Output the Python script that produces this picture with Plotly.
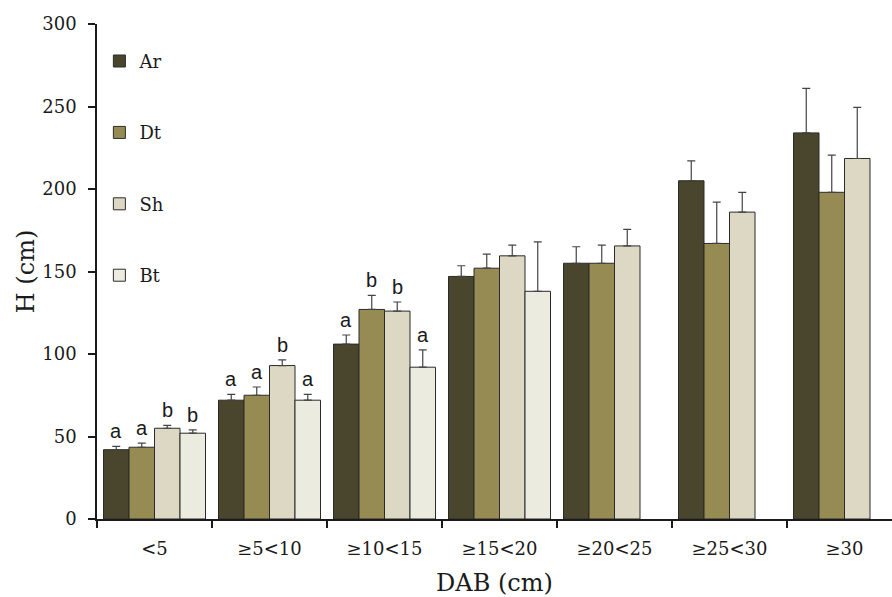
import plotly.graph_objects as go

# Tree height by diameter class (DAB) for four species groups
categories = ["<5", "≥5<10", "≥10<15", "≥15<20", "≥20<25", "≥25<30", "≥30"]
series_names = ["Ar", "Dt", "Sh", "Bt"]

ar_mean = [42, 72, 106, 147, 155, 205, 234]
dt_mean = [43.5, 75, 127, 152, 155, 167, 198]
sh_mean = [55, 93, 126, 159.5, 165.5, 186, 218.5]
bt_mean = [52, 72, 92, 138, None, None, None]

ar_err = [2, 3.5, 5.5, 6.5, 10, 12, 27]
dt_err = [2.5, 5, 8.5, 8.5, 11, 25, 22.5]
sh_err = [1.8, 3.5, 5.5, 6.5, 10, 12, 31]
bt_err = [2, 3.5, 10.5, 30, None, None, None]

# Significance letters per class (None where not shown)
ar_sig = ["a", "a", "a", None, None, None, None]
dt_sig = ["a", "a", "b", None, None, None, None]
sh_sig = ["b", "b", "b", None, None, None, None]
bt_sig = ["b", "a", "a", None, None, None, None]

y_ticks = [0, 50, 100, 150, 200, 250, 300]

colors = ["#4a452d", "#958b53", "#ddd8c3", "#ecebdf"]
means = [ar_mean, dt_mean, sh_mean, bt_mean]
errs = [ar_err, dt_err, sh_err, bt_err]
sigs = [ar_sig, dt_sig, sh_sig, bt_sig]

W, H = 892, 597
ML, MR, MT, MB = 97, 0, 24, 78
plot_w = W - ML - MR
cat_px = 115.0
x_max = -0.5 + plot_w / cat_px
bargap = 0.113
bar_px = cat_px * (1 - bargap) / 4

fig = go.Figure()
for i, name in enumerate(series_names):
    fig.add_trace(go.Bar(
        x=categories, y=means[i], name=name,
        marker=dict(color=colors[i], line=dict(color="#2b2b2b", width=1)),
        error_y=dict(type="data", array=errs[i], symmetric=False,
                     arrayminus=[0] * len(errs[i]),
                     color="#444444", thickness=1.2, width=4),
        legendgroup=name,
    ))

# Letters above the error bars
for i in range(4):
    for j, cat in enumerate(categories):
        s = sigs[i][j]
        if s is None:
            continue
        fig.add_annotation(
            x=cat, y=means[i][j] + errs[i][j], text=s, showarrow=False,
            xshift=(i - 1.5) * bar_px, yshift=2, yanchor="bottom",
            font=dict(family="Liberation Sans", size=20, color="#1a1a1a"),
        )

fig.update_layout(
    width=W, height=H,
    margin=dict(l=ML, r=MR, t=MT, b=MB, pad=0),
    paper_bgcolor="white", plot_bgcolor="white",
    barmode="group", bargap=bargap, bargroupgap=0,
    font=dict(family="DejaVu Serif", size=18, color="#1a1a1a"),
    legend=dict(x=0.003, y=0.962, xanchor="left", yanchor="top",
                traceorder="grouped", tracegroupgap=45,
                font=dict(family="DejaVu Serif", size=18),
                bgcolor="rgba(0,0,0,0)", itemclick=False),
    xaxis=dict(
        type="category", range=[-0.5, x_max],
        showline=True, linecolor="#1a1a1a", linewidth=1.5,
        ticks="outside", tickson="boundaries", ticklen=7, tickwidth=1.5,
        tickcolor="#1a1a1a", showgrid=False, zeroline=False,
        ticklabelstandoff=13,
        tickfont=dict(family="DejaVu Serif", size=18),
        title=dict(text="DAB (cm)", font=dict(family="DejaVu Serif", size=24), standoff=16),
    ),
    yaxis=dict(
        range=[0, 300], tickvals=y_ticks,
        showline=True, linecolor="#1a1a1a", linewidth=1.5,
        ticks="outside", ticklen=7, tickwidth=1.5, tickcolor="#1a1a1a",
        showgrid=False, zeroline=False, ticklabelstandoff=8,
        tickfont=dict(family="DejaVu Serif", size=18),
        title=dict(text="H (cm)", font=dict(family="DejaVu Serif", size=24), standoff=1),
    ),
)

fig.write_html("out.html")
